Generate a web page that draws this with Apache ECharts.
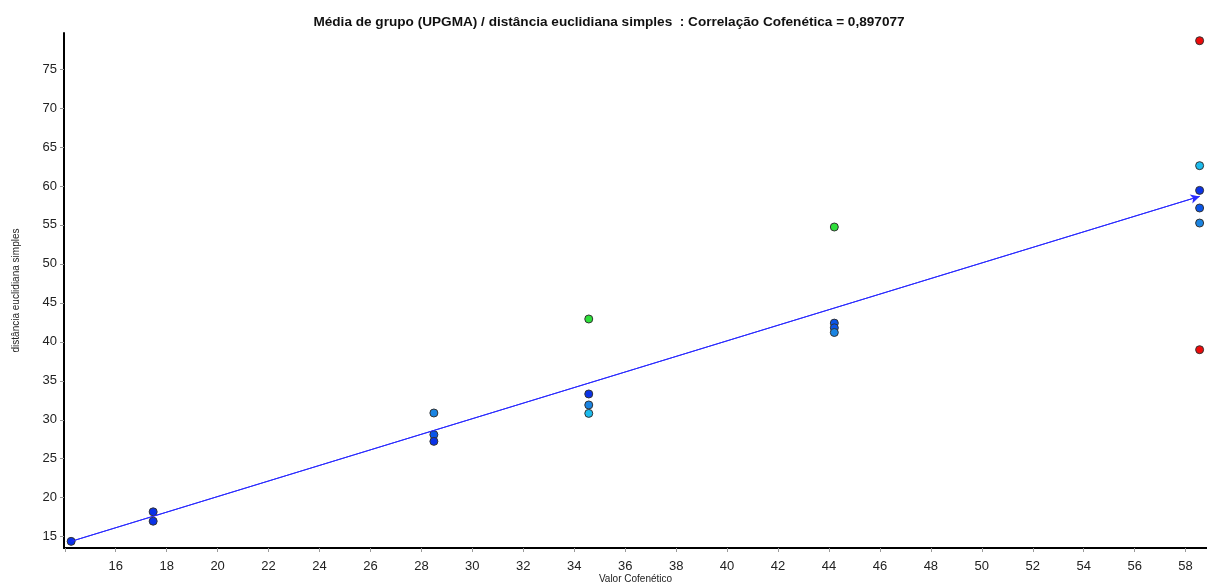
<!DOCTYPE html>
<html>
<head>
<meta charset="utf-8">
<script src="https://cdn.jsdelivr.net/npm/echarts@6/dist/echarts.min.js"></script>
<style>html,body{margin:0;padding:0;background:#fff}#c{width:1207px;height:586px}</style>
</head>
<body>
<div id="c"></div>
<script>
// Data
var valorCofenetico = [14.25, 17.47, 17.47, 28.49, 28.49, 28.49, 34.57, 34.57, 34.57, 34.57, 44.21, 44.21, 44.21, 44.21, 58.55, 58.55, 58.55, 58.55, 58.55, 58.55];
var distancia      = [14.4, 18.19, 16.99, 30.87, 28.09, 27.23, 42.93, 33.31, 31.9, 30.82, 54.73, 42.4, 41.8, 41.2, 78.63, 62.6, 59.43, 57.17, 55.24, 38.99];
var nivel          = [0, 0, 0, 2, 1, 0, 4, 0, 2, 3, 4, 1, 1, 2, 5, 3, 0, 1, 2, 5];
var retaX = [14.25, 58.55];
var retaY = [14.4, 58.66];
var titulo = 'Média de grupo (UPGMA) / distância euclidiana simples  : Correlação Cofenética = 0,897077';

var paleta = ['#0a32e8', '#0a55e8', '#1a84e2', '#1cbcee', '#2ee03a', '#ee0a0a'];

var pts = valorCofenetico.map(function (x, i) { return [x, distancia[i], nivel[i]]; });

var chart = echarts.init(document.getElementById('c'), null, { renderer: 'canvas' });
var fontFam = '"Liberation Sans", Arial, sans-serif';
chart.setOption({
  animation: false,
  backgroundColor: '#ffffff',
  title: {
    text: titulo, left: 604, textAlign: 'center', top: 10,
    textStyle: { fontFamily: fontFam, fontSize: 13.6, fontWeight: 'bold', color: '#111' }
  },
  grid: { left: 64, right: 0, top: 33, bottom: 38, containLabel: false, outerBoundsMode: 'none' },
  visualMap: {
    show: false, type: 'piecewise', dimension: 2, seriesIndex: 0,
    pieces: paleta.map(function (c, i) { return { value: i, color: c }; })
  },
  xAxis: {
    type: 'value', min: 13.97, max: 58.84, splitNumber: 22,
    name: 'Valor Cofenético', nameLocation: 'middle', nameGap: 26, nameMoveOverlap: false,
    nameTextStyle: { fontFamily: fontFam, fontSize: 10, color: '#222' },
    axisLine: { lineStyle: { color: '#000', width: 2 } },
    axisTick: { length: 4, lineStyle: { color: '#999' } },
    axisLabel: {
      showMinLabel: false, showMaxLabel: false, fontFamily: fontFam, fontSize: 13, color: '#222', margin: 12,
      formatter: function (v) { return v < 15 ? '' : String(v); }
    },
    splitLine: { show: false }
  },
  yAxis: {
    type: 'value', min: 13.55, max: 79.62, splitNumber: 13,
    name: 'distância euclidiana simples', nameLocation: 'middle', nameGap: 43, nameMoveOverlap: false,
    nameTextStyle: { fontFamily: fontFam, fontSize: 10, color: '#222' },
    axisLine: { show: true, lineStyle: { color: '#000', width: 2 } },
    axisTick: { show: true, length: 4, lineStyle: { color: '#999' } },
    axisLabel: { showMinLabel: false, showMaxLabel: false, fontFamily: fontFam, fontSize: 13, color: '#222', margin: 7 },
    splitLine: { show: false }
  },
  series: [{
    type: 'scatter',
    data: pts,
    symbolSize: 8,
    itemStyle: { borderColor: '#333', borderWidth: 1, opacity: 1 },
    emphasis: { disabled: true },
    z: 3
  }, {
    type: 'line',
    data: retaX.map(function (x, i) { return [x, retaY[i]]; }),
    showSymbol: false, symbol: 'none',
    lineStyle: { color: '#2a2aff', width: 1 },
    markLine: {
      silent: true, symbol: ['none', 'arrow'], symbolSize: [7, 9],
      label: { show: false },
      lineStyle: { color: '#2a2aff', width: 1, type: 'solid' },
      data: [[{ coord: [retaX[0], retaY[0]] }, { coord: [retaX[1], retaY[1]] }]]
    },
    z: 2
  }]
});
</script>
</body>
</html>
